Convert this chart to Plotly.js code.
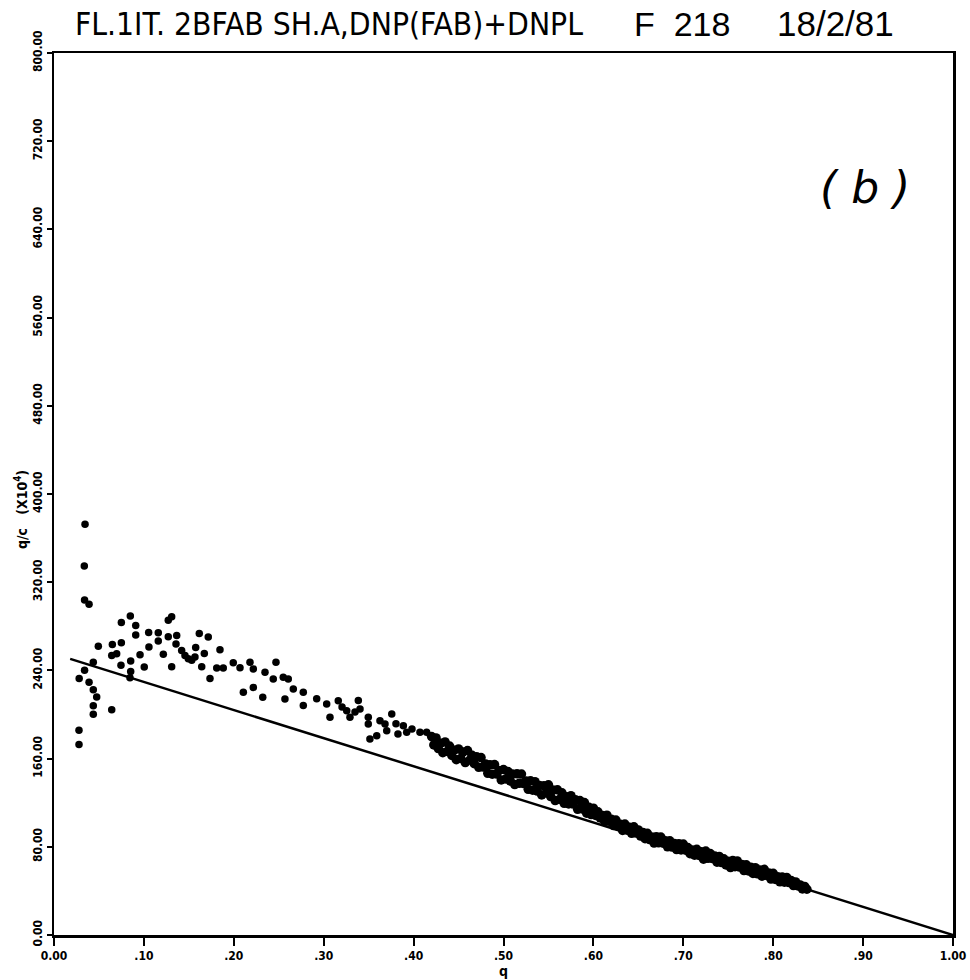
<!DOCTYPE html>
<html>
<head>
<meta charset="utf-8">
<script src="https://cdn.plot.ly/plotly-3.0.1.min.js"></script>
<style>html,body{margin:0;padding:0;background:#fff}</style>
</head>
<body>
<div id="chart" style="width:970px;height:980px"></div>
<script>
// Scatchard plot: bound fraction q against q/c (x10^4)

// scattered measurements at low occupancy
const lowQ = [0.0345,0.0337,0.0340,0.0390,0.0280,0.0340,0.0390,0.0437,0.0475,0.0437,0.0437,0.0278,0.0278,
  0.0642,0.0493,0.0437,0.0649,0.0749,0.0642,0.0697,0.0745,0.0749,0.0849,0.0909,0.0909,0.0853,0.0853,0.0845,
  0.1053,0.1056,0.0957,0.1004,0.1160,0.1160,0.1271,0.1309,0.1216,0.1309,0.1271,0.1365,0.1357,0.1420,0.1457,
  0.1494,0.1532,0.1568,0.1616,0.1716,0.1576,0.1672,0.1643,0.1735,0.1846,0.1810,0.1883,0.1994,0.2069,0.2180,
  0.2217,0.2106,0.2217,0.2322,0.2347,0.2469,0.2439,0.2550,0.2606,0.2569,0.2662,0.2773,0.2773,0.2922,0.3033,
  0.3070,0.3162,0.3256,0.3292,0.3385,0.3404,0.3496,0.3496,0.3590,0.3682,0.3757,0.3701,0.3886,0.3923,0.4071,
  0.4145,0.3514,0.3626,0.3204,0.3348,0.3804,0.3982,0.3826];
const lowR = [372.5,334.7,303.8,300.0,232.7,240.1,229.3,222.4,215.8,207.9,200.3,185.8,172.8,
  204.3,261.8,247.5,263.6,265.0,253.6,255.2,244.7,283.4,289.3,280.7,272.2,248.5,238.9,233.4,
  274.3,261.3,254.1,243.1,274.2,266.7,285.5,288.7,254.6,243.3,270.5,271.6,263.9,258.1,253.6,
  250.6,249.2,252.2,273.5,270.4,260.7,255.4,243.3,232.6,258.8,242.1,242.2,246.9,242.5,247.3,
  241.3,220.2,224.6,215.7,238.3,247.3,232.3,233.8,232.2,214.1,223.1,220.2,208.1,214.2,209.5,
  197.5,212.5,203.4,197.5,212.6,205.0,197.5,191.4,180.7,191.4,200.5,185.3,189.8,183.8,184.0,
  183.9,177.8,194.3,206.9,202.3,191.5,186.9,182.4];

// dense run of measurements at higher occupancy
const bandQ = [0.420,0.4225,0.425,0.4275,0.430,0.4325,0.435,0.4375,0.440,0.4425,0.445,0.4475,0.450,0.4525,
  0.455,0.4575,0.460,0.4625,0.465,0.4675,0.470,0.4725,0.475,0.4775,0.480,0.4825,0.485,0.4875,0.490,0.4925,
  0.495,0.4975,0.500,0.5025,0.505,0.5075,0.510,0.5125,0.515,0.5175,0.520,0.5225,0.525,0.5275,0.530,0.5325,
  0.535,0.5375,0.540,0.5425,0.545,0.5475,0.550,0.5525,0.555,0.5575,0.560,0.5625,0.565,0.5675,0.570,0.5725,
  0.575,0.5775,0.580,0.5825,0.585,0.5875,0.590,0.5925,0.595,0.5975,0.600,0.6025,
  0.605,0.6075,0.610,0.6125,0.615,0.6175,0.620,0.6225,0.625,0.6275,0.630,0.6325,0.635,0.6375,0.640,0.6425,
  0.645,0.6475,0.650,0.6525,0.655,0.6575,0.660,0.6625,0.665,0.6675,0.670,0.6725,0.675,0.6775,0.680,0.6825,
  0.685,0.6875,0.690,0.6925,0.695,0.6975,0.700,0.7025,0.705,0.7075,0.710,0.7125,0.715,0.7175,0.720,0.7225,
  0.725,0.7275,0.730,0.7325,0.735,0.7375,0.740,0.7425,0.745,0.7475,0.750,0.7525,0.755,0.7575,0.760,0.7625,
  0.765,0.7675,0.770,0.7725,0.775,0.7775,0.780,0.7825,0.785,0.7875,0.790,0.7925,0.795,0.7975,0.800,0.8025,
  0.805,0.8075,0.810,0.8125,0.815,0.8175,0.820,0.8225,0.825,0.8275,0.830,0.8325,0.835,0.8375];
const bandR = [180.0,172.4,178.7,169.1,173.9,165.3,175.1,166.5,171.4,162.8,167.6,159.0,168.8,160.2,
  166.0,156.4,167.3,158.7,163.0,155.4,161.7,152.1,160.9,152.3,155.2,146.6,154.4,145.8,154.6,146.0,
  149.3,140.7,150.1,141.5,148.3,139.7,146.0,136.4,146.2,137.6,146.0,137.4,139.7,132.1,139.9,131.3,
  139.1,130.5,135.6,127.0,135.4,128.8,136.2,125.6,131.5,121.9,131.7,123.1,129.0,119.4,125.5,118.9,
  126.4,118.8,122.6,114.0,121.9,114.3,120.1,110.5,115.8,109.2,115.0,108.4,
  111.8,106.2,108.5,102.9,108.7,103.1,104.9,99.3,104.2,98.6,100.4,94.8,100.6,95.0,97.8,92.2,
  98.1,92.5,95.3,89.7,93.0,87.4,92.2,86.6,89.0,83.4,89.2,83.6,88.9,83.3,85.6,80.0,
  85.4,79.8,83.1,77.5,82.8,77.2,82.5,76.9,79.3,73.7,77.0,72.4,77.7,72.1,75.4,68.8,
  76.2,69.6,73.9,69.3,71.6,66.0,71.3,65.7,69.1,63.5,66.8,61.2,67.5,61.9,67.2,61.6,
  64.0,58.4,63.7,58.1,61.4,55.8,61.1,55.5,58.9,53.3,59.6,54.0,56.3,50.7,56.0,50.4,
  52.8,48.2,52.5,47.9,52.2,47.6,49.4,44.8,48.1,44.5,45.4,41.8,44.1,41.5];

// fitted straight line
const fitQ = [0.018, 1.0];
const fitR = [250.5, 0];

// axis ticks
const xTickVals = [0,0.1,0.2,0.3,0.4,0.5,0.6,0.7,0.8,0.9,1.0];
const xTickText = ['0.00','.10','.20','.30','.40','.50','.60','.70','.80','.90','1.00'];
const yTickVals = [0,80,160,240,320,400,480,560,640,720,800];
const yTickText = ['0.00','80.00','160.00','240.00','320.00','400.00','480.00','560.00','640.00','720.00','800.00'];

const narrow = '"Liberation Sans Narrow", "DejaVu Sans Condensed", "Liberation Sans", sans-serif';
const plain = '"Liberation Sans", Arial, sans-serif';

const traces = [
  {x: lowQ, y: lowR, type: 'scatter', mode: 'markers',
   marker: {color: '#000', size: 7.5, line: {width: 0}}, hoverinfo: 'x+y'},
  {x: bandQ, y: bandR, type: 'scatter', mode: 'markers',
   marker: {color: '#000', size: 9.5, line: {width: 0}}, hoverinfo: 'x+y'},
  {x: fitQ, y: fitR, type: 'scatter', mode: 'lines', line: {color: '#000', width: 2.5}, hoverinfo: 'skip'}
];

const tickFont = {family: narrow, size: 12, color: '#000', weight: 'bold'};

// header pieces sit above the frame (paper y > 1)
const headerY = (935 - 24) / 882;

const layout = {
  width: 970, height: 980,
  margin: {l: 54, r: 17, t: 53, b: 45},
  paper_bgcolor: '#fff', plot_bgcolor: '#fff',
  showlegend: false,
  title: {
    text: 'FL.1IT. 2BFAB SH.A,DNP(FAB)+DNPL',
    font: {family: narrow, size: 31.5, color: '#000'},
    x: 75 / 970, xanchor: 'left', xref: 'container',
    y: 1 - 24 / 980, yanchor: 'middle', yref: 'container'
  },
  xaxis: {
    range: [0, 1], autorange: false, fixedrange: true,
    tickmode: 'array', tickvals: xTickVals, ticktext: xTickText,
    ticks: 'outside', ticklen: 8, tickwidth: 2, tickcolor: '#000',
    tickfont: tickFont,
    showline: true, linewidth: 2.5, linecolor: '#000', mirror: true,
    showgrid: false, zeroline: false, automargin: false,
    title: {text: 'q', font: {family: narrow, size: 14, color: '#000', weight: 'bold'}, standoff: 2}
  },
  yaxis: {
    range: [0, 800], autorange: false, fixedrange: true,
    tickmode: 'array', tickvals: yTickVals, ticktext: yTickText,
    ticks: 'outside', ticklen: 5, tickwidth: 2, tickcolor: '#000',
    tickangle: -90, tickfont: tickFont,
    showline: true, linewidth: 2.5, linecolor: '#000', mirror: true,
    showgrid: false, zeroline: false, automargin: false
  },
  annotations: [
    {text: 'F&nbsp;&nbsp;218', xref: 'paper', yref: 'paper', x: (632 - 54) / 899, y: headerY,
     xanchor: 'left', yanchor: 'middle', showarrow: false,
     font: {family: plain, size: 34, color: '#000'}},
    {text: '18/2/81', xref: 'paper', yref: 'paper', x: (775 - 54) / 899, y: headerY,
     xanchor: 'left', yanchor: 'middle', showarrow: false,
     font: {family: plain, size: 35, color: '#000'}},
    {text: 'q/c&nbsp;&nbsp;&nbsp;(X10<sup>4</sup>)', xref: 'paper', yref: 'paper',
     x: (21 - 54) / 899, y: (935 - 510) / 882, textangle: -90,
     xanchor: 'center', yanchor: 'middle', showarrow: false,
     font: {family: narrow, size: 14, color: '#000', weight: 'bold'}},
    {text: '( b )', xref: 'paper', yref: 'paper', x: 0.902, y: 0.848,
     xanchor: 'center', yanchor: 'middle', showarrow: false,
     font: {family: '"DejaVu Sans", sans-serif', size: 44, color: '#000', style: 'italic'}}
  ]
};

Plotly.newPlot('chart', traces, layout, {displayModeBar: false, staticPlot: true});
</script>
</body>
</html>
